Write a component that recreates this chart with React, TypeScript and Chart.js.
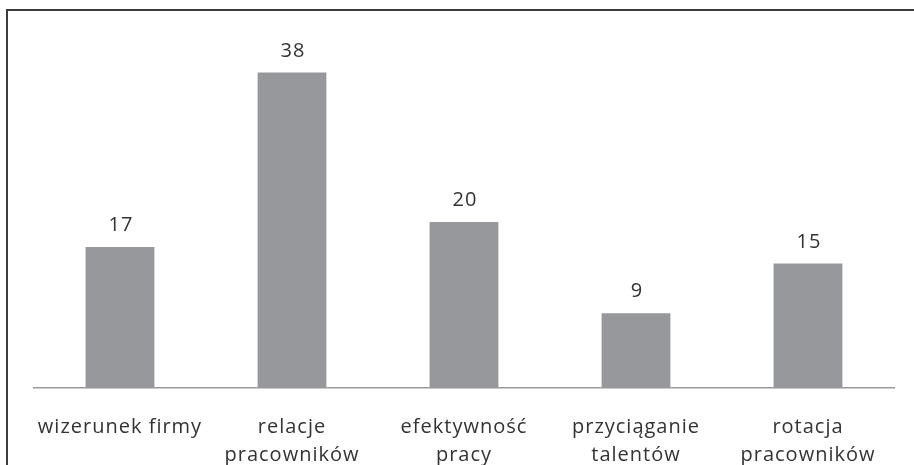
import React, { useEffect, useRef } from "react";
import { Chart, registerables } from "chart.js";

Chart.register(...registerables);

const categories: string[][] = [
  ["wizerunek firmy"],
  ["relacje", "pracowników"],
  ["efektywność", "pracy"],
  ["przyciąganie", "talentów"],
  ["rotacja", "pracowników"],
];
const values: number[] = [17, 38, 20, 9, 15];

const FONT = "'Open Sans', 'DejaVu Sans', sans-serif";
const TEXT = "#333333";

const spacingPlugin = {
  id: "spacing",
  beforeDraw(chart: any) {
    (chart.ctx as any).letterSpacing = "1px";
  },
};

const framePlugin = {
  id: "frame",
  afterDraw(chart: any) {
    const ctx = chart.ctx;
    ctx.save();
    ctx.strokeStyle = "#3c3c3c";
    ctx.lineWidth = 2;
    ctx.beginPath();
    ctx.moveTo(914, 10);
    ctx.lineTo(7, 10);
    ctx.lineTo(7, 465);
    ctx.stroke();
    ctx.restore();
  },
};

const valueLabels = {
  id: "valueLabels",
  afterDatasetsDraw(chart: any) {
    const ctx = chart.ctx;
    const meta = chart.getDatasetMeta(0);
    ctx.save();
    ctx.font = `20px ${FONT}`;
    (ctx as any).letterSpacing = "1px";
    ctx.fillStyle = TEXT;
    ctx.textAlign = "center";
    ctx.textBaseline = "alphabetic";
    meta.data.forEach((bar: any, i: number) => {
      ctx.fillText(String(values[i]), bar.x + 1, bar.y - 16);
    });
    ctx.restore();
  },
};

export default function App() {
  const ref = useRef<HTMLCanvasElement | null>(null);
  useEffect(() => {
    if (!ref.current) return;
    const chart = new Chart(ref.current, {
      type: "bar",
      data: {
        labels: categories,
        datasets: [
          {
            data: values,
            backgroundColor: "#97989b",
            categoryPercentage: 1,
            barPercentage: 0.4,
          },
        ],
      },
      options: {
        responsive: false,
        animation: false,
        layout: { padding: { top: 56, left: 34, right: 20, bottom: 0 } },
        plugins: { legend: { display: false }, tooltip: { enabled: false } },
        scales: {
          x: {
            grid: { display: false, drawTicks: false },
            border: { display: true, color: "#9a9a9a", width: 1.5 },
            ticks: {
              color: TEXT,
              padding: 25,
              maxRotation: 0,
              autoSkip: false,
              font: { family: FONT, size: 20, lineHeight: 1.4 },
            },
            afterFit: (scale: any) => {
              scale.height = 77;
            },
          },
          y: { display: false, min: 0, max: 40 },
        },
      },
      plugins: [spacingPlugin, framePlugin, valueLabels],
    });
    return () => chart.destroy();
  }, []);
  return (
    <div style={{ position: "absolute", left: 0, top: 0, width: 914, height: 465, background: "#fff" }}>
      <canvas ref={ref} width={914} height={465} />
    </div>
  );
}
